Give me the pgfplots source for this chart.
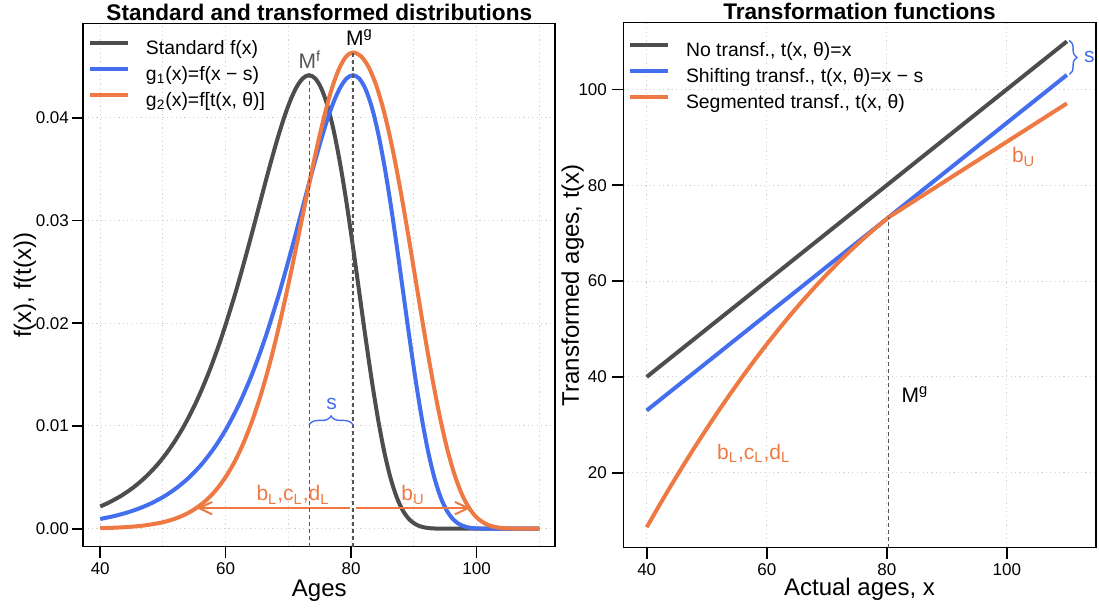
\documentclass[border=0pt]{standalone}
\usepackage{fontspec}
\setmainfont{Liberation Sans}
\usepackage{pgfplots}
\pgfplotsset{compat=1.18}
\usetikzlibrary{decorations.pathreplacing,arrows.meta}

\definecolor{cdark}{HTML}{4D4D4D}
\definecolor{cblue}{HTML}{436EEE}
\definecolor{corange}{HTML}{EE7942}
\definecolor{cgrid}{HTML}{D3D3D3}
\definecolor{cdash}{HTML}{555555}

\pgfplotsset{
  panel/.style={
    scale only axis,
    anchor=south west,
    clip=false,
    axis line style={line width=0.8pt},
    tick pos=left,
    tick align=outside,
    major tick length=5.5pt,
    minor tick length=0pt,
    tick style={black, line width=0.8pt},
    tick label style={font=\fontsize{8.5}{10}\selectfont, inner sep=0pt},
    /pgf/number format/assume math mode=true,
    xticklabel style={anchor=base, yshift=-8.6pt},
    grid=major,
    grid style={cgrid, dash pattern=on 0.6pt off 1.6pt, line width=0.5pt},
    minor grid style={cgrid, dash pattern=on 0.6pt off 1.6pt, line width=0.5pt},
    label style={font=\fontsize{12}{14}\selectfont},
    every axis title shift=0pt,
    title style={at={(0.5,1)}, anchor=base, yshift=1.4pt, font=\bfseries\fontsize{11.3}{13}\selectfont},
    legend cell align=left,
    legend image code/.code={\draw[##1] (0pt,3.5pt) -- (19pt,3.5pt);},
    legend style={at={(0,1)}, anchor=north west, xshift=2.35pt, draw=none, fill=none,
      inner sep=0pt, outer sep=0pt, row sep=3.5pt, font=\fontsize{9.7}{11}\selectfont,
      nodes={inner sep=0pt, text height=7pt, text depth=2.5pt},
      /tikz/every odd column/.append style={column sep=8pt}},
  },
  curve/.style={line width=2pt, #1},
}

\begin{document}
\begin{tikzpicture}
\path[use as bounding box] (0,0) rectangle (549.5pt,304pt);

% left panel: densities
\begin{axis}[panel,
  at={(41.65pt,30.65pt)}, width=236pt, height=261.5pt,
  xmin=37.3, xmax=112.55, ymin=-0.00175, ymax=0.04916,
  xtick={40,60,80,100}, minor xtick={50,70,90,110}, xminorgrids=true,
  ytick={0,0.01,0.02,0.03,0.04}, yticklabels={0.00,0.01,0.02,0.03,0.04},
  scaled y ticks=false,
  yticklabel style={anchor=east, xshift=-1.5pt},
  title={Standard and transformed distributions},
  xlabel={Ages}, xlabel style={at={(axis description cs:0.5,-0.0955)}, anchor=base},
  ylabel={f(x), f(t(x))}, ylabel style={at={(axis description cs:-0.1108,0.5)}, anchor=base},
  legend style={yshift=-8.6pt},
]
\addplot[curve=cdark, smooth] coordinates {
(40,0.002166)(41.3,0.002524)(43.3,0.003190)(45.3,0.004026)(47.3,0.005070)(49.3,0.006369)
(51.3,0.007974)(53.3,0.009942)(55.3,0.012332)(57.3,0.015194)(59.3,0.018562)(61.3,0.022434)
(62.3,0.024541)(63.3,0.026744)(64.3,0.029017)(65.3,0.031331)(66.3,0.033643)(67.3,0.035900)
(68.3,0.038041)(69.3,0.039993)(70.3,0.041671)(71.3,0.042985)(72.3,0.043841)(73.3,0.044146)
(74.3,0.043816)(75.3,0.042787)(76.3,0.041024)(77.3,0.038528)(78.3,0.035353)(79.3,0.031597)
(80.3,0.027413)(81.3,0.023008)(82.3,0.018593)(83.3,0.014404)(84.3,0.010634)(85.3,0.007440)
(86.3,0.004897)(87.3,0.003010)(88.3,0.001712)(89.3,0.000893)(90.3,0.000422)(91.3,0.000178)
(92.3,0.000067)(93.3,0.000022)(95.3,0)(100,0)(105,0)(110,0)};
\addlegendentry{Standard f(x)}
\addplot[curve=cblue, smooth] coordinates {
(40,0.000945)(42.3,0.001242)(44.3,0.001575)(46.3,0.001995)(48.3,0.002524)(50.3,0.003190)
(52.3,0.004026)(54.3,0.005070)(56.3,0.006369)(58.3,0.007974)(60.3,0.009942)(62.3,0.012332)
(64.3,0.015194)(66.3,0.018562)(68.3,0.022434)(69.3,0.024541)(70.3,0.026744)(71.3,0.029017)
(72.3,0.031331)(73.3,0.033643)(74.3,0.035900)(75.3,0.038041)(76.3,0.039993)(77.3,0.041671)
(78.3,0.042985)(79.3,0.043841)(80.3,0.044146)(81.3,0.043816)(82.3,0.042787)(83.3,0.041024)
(84.3,0.038528)(85.3,0.035353)(86.3,0.031597)(87.3,0.027413)(88.3,0.023008)(89.3,0.018593)
(90.3,0.014404)(91.3,0.010634)(92.3,0.007440)(93.3,0.004897)(94.3,0.003010)(95.3,0.001712)
(96.3,0.000893)(97.3,0.000422)(98.3,0.000178)(99.3,0.000067)(100.3,0.000022)(102.3,0)
(106,0)(110,0)};
\addlegendentry{g\textsubscript{1}(x)=f(x − s)}
\addplot[curve=corange, smooth] coordinates {
(40,0.000054)(42.14,0.000094)(44.51,0.000171)(46.97,0.000312)(49.52,0.000567)(51.09,0.000811)
(52.17,0.001028)(53.26,0.001304)(54.38,0.001654)(55.51,0.002095)(56.67,0.002650)(57.86,0.003350)
(59.06,0.004227)(60.30,0.005324)(61.57,0.006687)(62.86,0.008373)(64.19,0.010439)(65.56,0.012949)
(66.97,0.015954)(68.42,0.019490)(69.92,0.023556)(70.69,0.025768)(71.47,0.028081)(72.27,0.030468)
(73.08,0.032898)(73.91,0.035325)(74.76,0.037695)(75.63,0.039943)(76.51,0.041993)(77.42,0.043755)
(78.36,0.045134)(79.31,0.046033)(80.3,0.046353)(81.55,0.046007)(82.8,0.044926)(84.05,0.043075)
(85.3,0.040454)(86.55,0.037121)(87.8,0.033177)(89.05,0.028784)(90.3,0.024158)(91.55,0.019523)
(92.8,0.015124)(94.05,0.011166)(95.3,0.007812)(96.55,0.005142)(97.8,0.003161)(99.05,0.001798)
(100.3,0.000938)(101.55,0.000443)(102.8,0.000187)(104.05,0.000070)(105.3,0.000023)(107.8,0)(110,0)};
\addlegendentry{g\textsubscript{2}(x)=f[t(x, θ)]}

% annotations
\draw[corange, line width=1pt, -{Straight Barb[length=6.5pt,width=6.2pt]}]
  (axis cs:79.9,0.002) -- (axis cs:55.4,0.002);
\draw[corange, line width=1pt, -{Straight Barb[length=6.5pt,width=6.2pt]}]
  (axis cs:80.7,0.002) -- (axis cs:99.0,0.002);
\draw[cdash, line width=0.6pt, dash pattern=on 2pt off 1.5pt]
  (axis cs:73.3,-0.00175) -- (axis cs:73.3,0.044146);
\draw[cdash, line width=0.6pt, dash pattern=on 2pt off 1.5pt]
  (axis cs:80.3,-0.00175) -- (axis cs:80.3,0.046353);
\draw[cblue, line width=0.7pt, decorate, decoration={brace, amplitude=4.5pt}]
  (axis cs:73.3,0.0101) -- (axis cs:80.3,0.0101);
\begin{scope}[every node/.style={inner sep=0pt, anchor=base west, font=\fontsize{10.5}{12}\selectfont}]
\node[text=cdash] at (axis cs:71.56,0.04475) {M\textsuperscript{f}};
\node at (axis cs:79.12,0.04704) {M\textsuperscript{g}};
\node[text=cblue] at (axis cs:76.0,0.01163) {s};
\node[text=corange] at (axis cs:64.85,0.0027) {b\textsubscript{L},c\textsubscript{L},d\textsubscript{L}};
\node[text=corange] at (axis cs:87.96,0.0027) {b\textsubscript{U}};
\end{scope}
\end{axis}

% right panel: transformation functions
\begin{axis}[panel,
  at={(311.65pt,30.15pt)}, width=236.2pt, height=262.5pt,
  xmin=36.1, xmax=114.8, ymin=4.375, ymax=113.9,
  xtick={40,60,80,100}, ytick={20,40,60,80,100},
  yticklabel style={anchor=east, xshift=-2.5pt},
  title={Transformation functions},
  xlabel={Actual ages, x}, xlabel style={at={(axis description cs:0.5,-0.0915)}, anchor=base},
  ylabel={Transformed ages, t(x)}, ylabel style={at={(axis description cs:-0.0938,0.5)}, anchor=base},
  legend style={yshift=-9.7pt},
]
\addplot[curve=cdark] coordinates {(40,40)(110,110)};
\addlegendentry{No transf., t(x, θ)=x}
\addplot[curve=cblue] coordinates {(40,33)(110,103)};
\addlegendentry{Shifting transf., t(x, θ)=x − s}
\addplot[curve=corange] coordinates {
(40,8.64)(42,12.997)(44,17.235)(46,21.353)(48,25.351)(50,29.229)(52,32.987)(54,36.625)
(56,40.143)(58,43.541)(60,46.819)(62,49.977)(64,53.015)(66,55.933)(68,58.731)(70,61.409)
(72,63.967)(74,66.405)(76,68.723)(78,70.92)(80.3,73.3)(110,97.06)};
\addlegendentry{Segmented transf., t(x, θ)}

\draw[cdash, line width=0.6pt, dash pattern=on 2pt off 1.5pt]
  (axis cs:80.3,4.375) -- (axis cs:80.3,73.3);
\draw[cblue, line width=0.7pt, decorate, decoration={brace, amplitude=3.8pt}]
  (axis cs:110.4,110.2) -- (axis cs:110.4,103.1);
\begin{scope}[every node/.style={inner sep=0pt, anchor=base west, font=\fontsize{10.5}{12}\selectfont}]
\node at (axis cs:82.4,34.7) {M\textsuperscript{g}};
\node[text=corange] at (axis cs:51.67,22.8) {b\textsubscript{L},c\textsubscript{L},d\textsubscript{L}};
\node[text=corange] at (axis cs:100.8,84.67) {b\textsubscript{U}};
\node[text=cblue] at (axis cs:112.8,105.6) {s};
\end{scope}
\end{axis}
\end{tikzpicture}
\end{document}
